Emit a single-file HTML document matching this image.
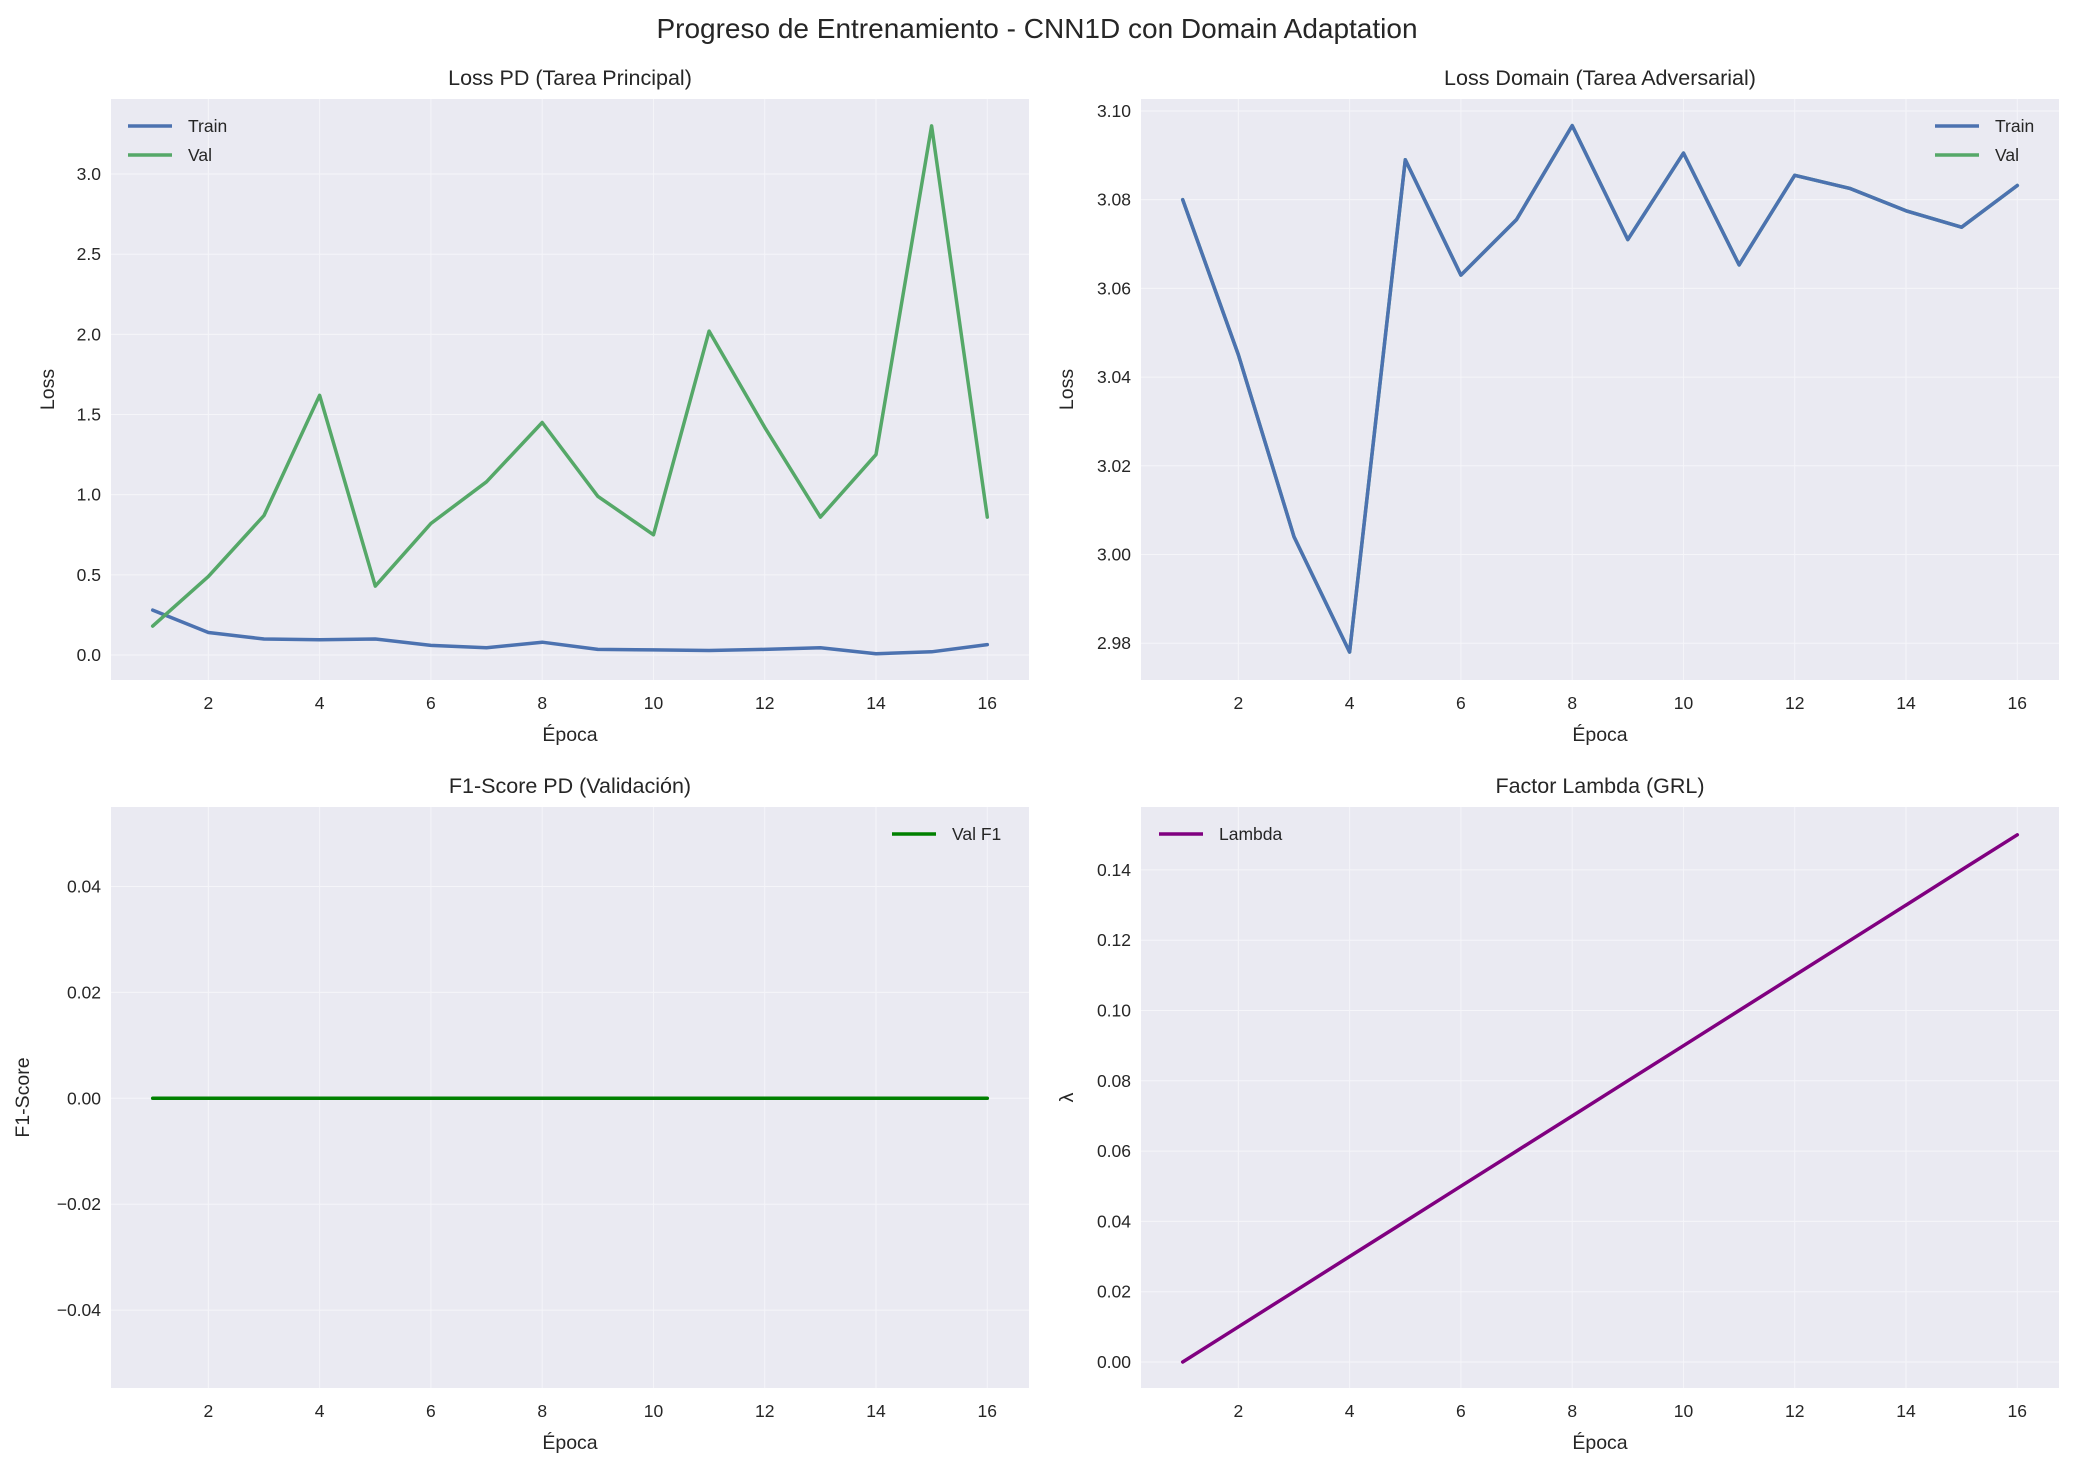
<!DOCTYPE html>
<html><head><meta charset="utf-8"><style>
body{margin:0;background:#fff;}
svg{display:block;font-family:"Liberation Sans",sans-serif;}
</style></head><body>
<svg id="chart" width="2075" height="1469" viewBox="0 0 2075 1469" xmlns="http://www.w3.org/2000/svg">
<text x="1037" y="38" text-anchor="middle" font-size="28" fill="#262626">Progreso de Entrenamiento - CNN1D con Domain Adaptation</text>
</svg>
<script>
const epochs = [1,2,3,4,5,6,7,8,9,10,11,12,13,14,15,16];
const pdTrain = [0.28,0.14,0.10,0.095,0.10,0.06,0.045,0.08,0.035,0.032,0.028,0.035,0.045,0.008,0.02,0.065];
const pdVal = [0.18,0.49,0.87,1.62,0.43,0.82,1.08,1.45,0.99,0.75,2.02,1.42,0.86,1.25,3.30,0.86];
const domTrain = [3.080,3.045,3.004,2.978,3.089,3.063,3.0755,3.0967,3.071,3.0905,3.0653,3.0855,3.0825,3.0775,3.0738,3.0832];
const domVal = [3.080,3.045,3.004,2.978,3.089,3.063,3.0755,3.0967,3.071,3.0905,3.0653,3.0855,3.0825,3.0775,3.0738,3.0832];
const f1Val = [0,0,0,0,0,0,0,0,0,0,0,0,0,0,0,0];
const lambdaVals = [0,0.01,0.02,0.03,0.04,0.05,0.06,0.07,0.08,0.09,0.10,0.11,0.12,0.13,0.14,0.15];
const xTicks = [2,4,6,8,10,12,14,16];
const pdTicks = [0,0.5,1.0,1.5,2.0,2.5,3.0];
const domTicks = [2.98,3.00,3.02,3.04,3.06,3.08,3.10];
const f1Ticks = [-0.04,-0.02,0,0.02,0.04];
const lamTicks = [0,0.02,0.04,0.06,0.08,0.10,0.12,0.14];

const svg = document.getElementById('chart');
const NS = 'http://www.w3.org/2000/svg';
function mk(tag, attrs, parent){const e=document.createElementNS(NS,tag);for(const k in attrs)e.setAttribute(k,attrs[k]);(parent||svg).appendChild(e);return e;}
const TF=17.5;
function panel(p){
  const g = mk('g',{});
  
  
  const L=p.l,R=p.l+918,T=p.t,B=p.t+581;
  const xs=v=>L+(v-0.25)/(16.75-0.25)*(R-L);
  const ys=v=>B-(v-p.ymin)/(p.ymax-p.ymin)*(B-T);
  const bg=mk('rect',{x:L,y:T,width:R-L,height:B-T,fill:'#eaeaf2'},g);
  
  
  xTicks.forEach(t=>{
    mk('line',{x1:xs(t),x2:xs(t),y1:T,y2:B,stroke:'#f5f5f9','stroke-width':1},g);
    const tx=mk('text',{x:xs(t),y:B+29,'text-anchor':'middle','font-size':TF,fill:'#262626'},g);
    tx.textContent=t;
    
    
  });
  p.ticks.forEach(t=>{
    mk('line',{x1:L,x2:R,y1:ys(t),y2:ys(t),stroke:'#f5f5f9','stroke-width':1},g);
    const tx=mk('text',{x:L-10,y:ys(t)+6,'text-anchor':'end','font-size':TF,fill:'#262626'},g);
    tx.textContent=(t<0?'\u2212':'')+Math.abs(t).toFixed(p.dec);
    
    
  });
  p.series.forEach(s=>{
    const d=s.data.map((v,i)=>(i?'L':'M')+xs(epochs[i]).toFixed(1)+','+ys(v).toFixed(1)).join('');
    const path=mk('path',{d:d,fill:'none',stroke:s.color,'stroke-width':3.5,'stroke-linejoin':'round','stroke-linecap':'round'},g);
    
    
  });
  const ti=mk('text',{x:(L+R)/2,y:T-14,'text-anchor':'middle','font-size':21.5,fill:'#262626'},g);
  ti.textContent=p.title;
  
  
  const xl=mk('text',{x:(L+R)/2,y:B+61,'text-anchor':'middle','font-size':19.5,fill:'#262626'},g);
  xl.textContent='Época';
  
  
  const yl=mk('text',{x:0,y:0,'text-anchor':'middle','font-size':19.5,fill:'#262626',transform:`translate(${p.ylx},${(T+B)/2}) rotate(-90)`},g);
  yl.textContent=p.ylabel;
  
  
  p.series.forEach((s,i)=>{
    if(s.noLegend)return;
    const y=p.legY+i*29;
    const lg=mk('g',{},g);
    
    
    mk('line',{x1:p.legX,x2:p.legX+44,y1:y,y2:y,stroke:s.color,'stroke-width':3.5},lg);
    const t=mk('text',{x:p.legX+60,y:y+6,'font-size':TF,fill:'#262626'},lg);
    t.textContent=s.label;
  });
}

panel({name:'loss-pd-panel',l:111,t:99,ymin:-0.156,ymax:3.468,ticks:pdTicks,dec:1,title:'Loss PD (Tarea Principal)',ylabel:'Loss',ylx:54,legX:128,legY:126,
  series:[{id:'pd-train-line',data:pdTrain,color:'#4c72b0',label:'Train'},{id:'pd-val-line',data:pdVal,color:'#55a868',label:'Val'}]});
panel({name:'loss-domain-panel',l:1141,t:99,ymin:2.9717,ymax:3.1027,ticks:domTicks,dec:2,title:'Loss Domain (Tarea Adversarial)',ylabel:'Loss',ylx:1073,legX:1935,legY:126,
  series:[{id:'domain-val-line',data:domVal,color:'#55a868',label:'Val',noLegend:true},{id:'domain-train-line',data:domTrain,color:'#4c72b0',label:'Train',noLegend:true}]});
(function(){const lg=mk('g',{});
 [['Train','#4c72b0'],['Val','#55a868']].forEach((e,i)=>{const y=126+i*29;mk('line',{x1:1935,x2:1979,y1:y,y2:y,stroke:e[1],'stroke-width':3.5},lg);const t=mk('text',{x:1995,y:y+6,'font-size':TF,fill:'#262626'},lg);t.textContent=e[0];});})();
panel({name:'f1-panel',l:111,t:807,ymin:-0.0547,ymax:0.055,ticks:f1Ticks,dec:2,title:'F1-Score PD (Validación)',ylabel:'F1-Score',ylx:29,legX:892,legY:834,
  series:[{id:'f1-val-line',data:f1Val,color:'#008000',label:'Val F1'}]});
panel({name:'lambda-panel',l:1141,t:807,ymin:-0.0074,ymax:0.1579,ticks:lamTicks,dec:2,title:'Factor Lambda (GRL)',ylabel:'λ',ylx:1073,legX:1159,legY:834,
  series:[{id:'lambda-line',data:lambdaVals,color:'#800080',label:'Lambda'}]});
</script>
</body></html>
